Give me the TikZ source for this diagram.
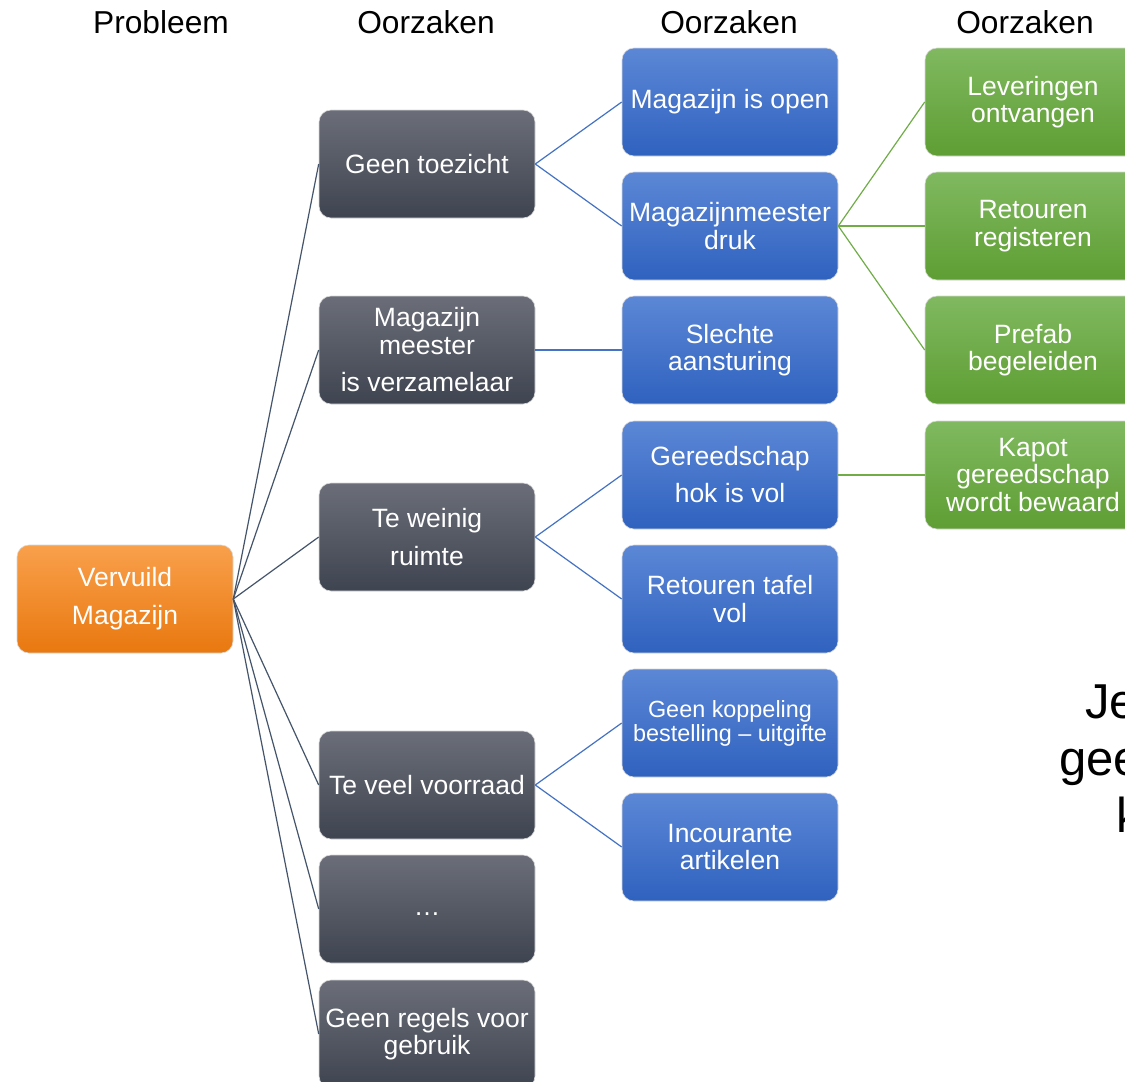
\documentclass[tikz,border=0pt]{standalone}
\usepackage{fontspec}
\setmainfont{Liberation Sans}
\definecolor{grayT}{HTML}{6B6E78}
\definecolor{grayB}{HTML}{3E4450}
\definecolor{blueT}{HTML}{5C87D6}
\definecolor{blueB}{HTML}{2F62BF}
\definecolor{greenT}{HTML}{80B960}
\definecolor{greenB}{HTML}{5E9E33}
\definecolor{orT}{HTML}{F9A04C}
\definecolor{orB}{HTML}{E9780F}
\definecolor{lnGray}{HTML}{44546A}
\definecolor{lnBlue}{HTML}{4472C4}
\definecolor{lnGreen}{HTML}{70AD47}
\tikzset{
  box/.style={rounded corners=12pt, minimum width=216pt, minimum height=108pt,
    text=white, align=center, inner sep=0pt, draw=white!85!black, line width=0.6pt,
    font=\fontsize{26.5}{27.5}\selectfont},
  graybox/.style={box, top color=grayT, bottom color=grayB},
  bluebox/.style={box, top color=blueT, bottom color=blueB},
  greenbox/.style={box, top color=greenT, bottom color=greenB},
  orbox/.style={box, top color=orT, bottom color=orB},
  loose/.style={font=\fontsize{26.5}{38}\selectfont},
  hdr/.style={font=\fontsize{31.7}{36}\selectfont, text=black, inner sep=0pt},
  cg/.style={draw=lnGray, line width=1.2pt},
  cb/.style={draw=lnBlue, line width=1.2pt},
  cgr/.style={draw=lnGreen, line width=1.2pt},
}
\begin{document}
\begin{tikzpicture}[x=1pt,y=-1pt]
\useasboundingbox (0,0) rectangle (1125,1082);
\fill[white] (0,0) rectangle (1125,1082);
% headers
\node[hdr] (h1) at (161,22) {Probleem};
\node[hdr] (h2) at (426,22) {Oorzaken};
\node[hdr] (h3) at (729,22) {Oorzaken};
\node[hdr] (h4) at (1025,22) {Oorzaken};
% problem
\node[orbox, loose] (p) at (125,599) {Vervuild\\Magazijn};
% gray
\node[graybox] (g1) at (427,164) {Geen toezicht};
\node[graybox] (g2) at (427,350) {Magazijn\\meester\\[10pt]is verzamelaar};
\node[graybox, loose] (g3) at (427,537) {Te weinig\\ruimte};
\node[graybox] (g4) at (427,785) {Te veel voorraad};
\node[graybox] (g5) at (427,909) {\vphantom{Tg}…};
\node[graybox] (g6) at (427,1034) {Geen regels voor\\gebruik};
% blue
\node[bluebox] (b1) at (730,102) {Magazijn is open};
\node[bluebox] (b2) at (730,226) {Magazijnmeester\\druk};
\node[bluebox] (b3) at (730,350) {Slechte\\aansturing};
\node[bluebox, font=\fontsize{26.5}{37}\selectfont] (b4) at (730,475) {Gereedschap\\hok is vol};
\node[bluebox] (b5) at (730,599) {Retouren tafel\\vol};
\node[bluebox, font=\fontsize{23.4}{24}\selectfont] (b6) at (730,723) {Geen koppeling\\bestelling – uitgifte};
\node[bluebox] (b7) at (730,847) {Incourante\\artikelen};
% green
\node[greenbox] (r1) at (1033,102) {Leveringen\\ontvangen};
\node[greenbox] (r2) at (1033,226) {Retouren\\registeren};
\node[greenbox] (r3) at (1033,350) {Prefab\\begeleiden};
\node[greenbox] (r4) at (1033,475) {Kapot\\gereedschap\\wordt bewaard};
% connectors
\foreach \g in {g1,g2,g3,g4,g5,g6} \draw[cg] (p.east) -- (\g.west);
\draw[cb] (g1.east) -- (b1.west);
\draw[cb] (g1.east) -- (b2.west);
\draw[cb] (g2.east) -- (b3.west);
\draw[cb] (g3.east) -- (b4.west);
\draw[cb] (g3.east) -- (b5.west);
\draw[cb] (g4.east) -- (b6.west);
\draw[cb] (g4.east) -- (b7.west);
\draw[cgr] (b2.east) -- (r1.west);
\draw[cgr] (b2.east) -- (r2.west);
\draw[cgr] (b2.east) -- (r3.west);
\draw[cgr] (b4.east) -- (r4.west);
% side text, cut off at the right edge as in the reference
\node[anchor=base west, inner sep=0pt, font=\fontsize{49}{57}\selectfont] (t1) at (1085,718) {Je};
\node[anchor=base west, inner sep=0pt, font=\fontsize{49}{57}\selectfont] (t2) at (1059,775) {gee};
\node[anchor=base west, inner sep=0pt, font=\fontsize{49}{57}\selectfont] (t3) at (1116,832) {k};
\end{tikzpicture}
\end{document}
